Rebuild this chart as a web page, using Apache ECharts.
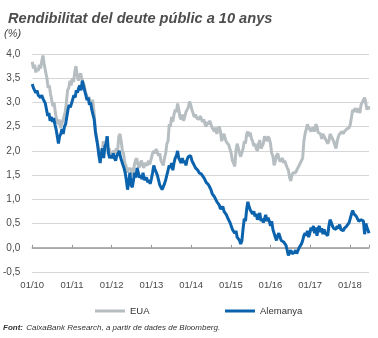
<!DOCTYPE html>
<html>
<head>
<meta charset="utf-8">
<script src="https://cdn.jsdelivr.net/npm/echarts@6/dist/echarts.min.js"></script>
<style>
html,body{margin:0;padding:0;background:#fff;}
#c{width:378px;height:338px;}
</style>
</head>
<body>
<div id="c"></div>
<script>
// Year ticks (decimal years) and their labels
var yearTicks = [2010, 2011, 2012, 2013, 2014, 2015, 2016, 2017, 2018];
var yTickLabels = ['-0,5','0,0','0,5','1,0','1,5','2,0','2,5','3,0','3,5','4,0'];
var seriesNames = ['EUA', 'Alemanya'];

// EUA 10y yield [decimal year, %]
var eua = [
[2010.00,3.84],[2010.03,3.70],[2010.06,3.78],[2010.09,3.62],[2010.12,3.70],[2010.15,3.65],[2010.18,3.78],[2010.21,3.70],[2010.24,3.85],[2010.27,3.97],
[2010.30,3.80],[2010.34,3.62],[2010.37,3.50],[2010.40,3.30],[2010.43,3.35],[2010.46,3.18],[2010.49,3.05],[2010.52,2.92],[2010.55,3.00],[2010.58,2.80],
[2010.62,2.62],[2010.65,2.55],[2010.68,2.65],[2010.71,2.47],[2010.74,2.55],[2010.77,2.62],[2010.80,2.58],[2010.83,2.80],[2010.86,3.00],[2010.89,3.25],
[2010.92,3.30],[2010.95,3.45],[2010.98,3.35],[2011.01,3.50],[2011.04,3.42],[2011.07,3.62],[2011.10,3.75],[2011.13,3.58],[2011.16,3.45],[2011.19,3.55],
[2011.22,3.60],[2011.25,3.48],[2011.28,3.42],[2011.31,3.35],[2011.34,3.20],[2011.37,3.15],[2011.40,3.05],[2011.43,3.12],[2011.46,2.95],[2011.49,3.00],
[2011.52,3.05],[2011.55,2.85],[2011.58,2.55],[2011.61,2.30],[2011.64,2.20],[2011.67,2.00],[2011.70,1.85],[2011.73,2.05],[2011.76,1.95],[2011.79,2.20],
[2011.82,2.05],[2011.85,2.15],[2011.88,2.30],[2011.91,1.95],[2011.94,2.05],[2011.97,1.90],[2012.00,1.95],[2012.03,1.95],[2012.06,2.00],[2012.09,1.95],
[2012.12,2.05],[2012.15,2.00],[2012.18,2.30],[2012.21,2.35],[2012.24,2.20],[2012.27,2.00],[2012.30,1.95],[2012.33,1.75],[2012.36,1.70],[2012.39,1.55],
[2012.42,1.65],[2012.45,1.60],[2012.48,1.65],[2012.51,1.48],[2012.54,1.55],[2012.57,1.70],[2012.60,1.80],[2012.63,1.85],[2012.66,1.72],[2012.69,1.65],
[2012.72,1.75],[2012.75,1.80],[2012.78,1.70],[2012.81,1.65],[2012.84,1.75],[2012.87,1.75],[2012.90,1.70],[2012.93,1.80],[2012.96,1.72],[2013.00,1.85],
[2013.03,1.95],[2013.06,2.00],[2013.09,1.95],[2013.12,2.04],[2013.15,1.98],[2013.18,1.90],[2013.21,1.95],[2013.24,1.80],[2013.27,1.75],[2013.30,1.70],
[2013.33,1.85],[2013.36,1.95],[2013.39,2.15],[2013.42,2.20],[2013.45,2.55],[2013.48,2.50],[2013.51,2.70],[2013.54,2.60],[2013.57,2.75],[2013.60,2.85],
[2013.63,2.80],[2013.66,2.98],[2013.69,2.85],[2013.72,2.70],[2013.75,2.65],[2013.78,2.75],[2013.81,2.62],[2013.84,2.70],[2013.87,2.80],[2013.90,2.85],
[2013.93,2.90],[2013.96,3.02],[2013.99,2.95],[2014.02,2.85],[2014.05,2.78],[2014.08,2.70],[2014.11,2.75],[2014.14,2.68],[2014.17,2.72],[2014.20,2.65],
[2014.23,2.72],[2014.26,2.68],[2014.29,2.60],[2014.32,2.65],[2014.35,2.55],[2014.38,2.50],[2014.41,2.60],[2014.44,2.55],[2014.47,2.62],[2014.50,2.55],
[2014.53,2.48],[2014.56,2.52],[2014.59,2.40],[2014.62,2.48],[2014.65,2.35],[2014.68,2.45],[2014.71,2.50],[2014.74,2.40],[2014.77,2.20],[2014.80,2.30],
[2014.83,2.35],[2014.86,2.25],[2014.89,2.18],[2014.92,2.22],[2014.95,2.12],[2014.98,2.15],[2015.01,1.95],[2015.04,1.80],[2015.07,1.75],[2015.10,1.68],
[2015.13,2.00],[2015.16,2.15],[2015.19,2.05],[2015.22,1.95],[2015.25,1.88],[2015.28,1.92],[2015.31,2.05],[2015.34,2.20],[2015.37,2.15],[2015.40,2.35],
[2015.43,2.40],[2015.46,2.30],[2015.49,2.38],[2015.52,2.25],[2015.55,2.20],[2015.58,2.10],[2015.61,2.15],[2015.64,2.05],[2015.67,2.00],[2015.70,2.15],
[2015.73,2.22],[2015.76,2.05],[2015.79,2.10],[2015.82,2.15],[2015.85,2.30],[2015.88,2.25],[2015.91,2.20],[2015.94,2.30],[2015.97,2.25],[2016.00,2.15],
[2016.03,1.95],[2016.06,1.90],[2016.09,1.70],[2016.12,1.78],[2016.15,1.90],[2016.18,1.95],[2016.21,1.85],[2016.24,1.78],[2016.27,1.80],[2016.30,1.85],
[2016.33,1.75],[2016.36,1.80],[2016.39,1.72],[2016.42,1.65],[2016.45,1.60],[2016.48,1.45],[2016.51,1.38],[2016.54,1.50],[2016.57,1.55],[2016.60,1.58],
[2016.63,1.55],[2016.66,1.60],[2016.69,1.62],[2016.72,1.70],[2016.75,1.75],[2016.78,1.80],[2016.81,1.85],[2016.84,2.20],[2016.87,2.35],[2016.90,2.45],
[2016.93,2.55],[2016.96,2.48],[2016.99,2.45],[2017.02,2.40],[2017.05,2.48],[2017.08,2.45],[2017.11,2.40],[2017.14,2.55],[2017.17,2.50],[2017.20,2.38],
[2017.23,2.42],[2017.26,2.35],[2017.29,2.25],[2017.32,2.35],[2017.35,2.32],[2017.38,2.25],[2017.41,2.20],[2017.44,2.15],[2017.47,2.20],[2017.50,2.35],
[2017.53,2.30],[2017.56,2.25],[2017.59,2.20],[2017.62,2.12],[2017.65,2.05],[2017.68,2.20],[2017.71,2.30],[2017.74,2.35],[2017.77,2.38],[2017.80,2.40],
[2017.83,2.35],[2017.86,2.40],[2017.89,2.38],[2017.92,2.45],[2017.95,2.42],[2017.98,2.48],[2018.01,2.55],[2018.04,2.70],[2018.07,2.85],[2018.10,2.80],
[2018.13,2.88],[2018.16,2.85],[2018.19,2.80],[2018.22,2.88],[2018.25,2.78],[2018.28,2.95],[2018.31,2.98],[2018.34,3.05],[2018.37,3.10],[2018.40,2.98],
[2018.43,2.85],[2018.46,2.92],[2018.48,2.85]
];

// Alemanya 10y yield [decimal year, %]
var alemanya = [
[2010.00,3.38],[2010.03,3.30],[2010.06,3.25],[2010.09,3.20],[2010.12,3.25],[2010.15,3.15],[2010.18,3.18],[2010.21,3.10],[2010.24,3.15],[2010.27,3.08],
[2010.30,3.12],[2010.33,2.98],[2010.36,2.85],[2010.39,2.72],[2010.42,2.78],[2010.45,2.62],[2010.48,2.70],[2010.51,2.60],[2010.54,2.68],[2010.57,2.55],
[2010.60,2.45],[2010.63,2.30],[2010.66,2.15],[2010.69,2.30],[2010.72,2.35],[2010.75,2.45],[2010.78,2.35],[2010.81,2.50],[2010.84,2.55],[2010.87,2.70],
[2010.90,2.85],[2010.93,2.95],[2010.96,2.90],[2010.99,2.98],[2011.02,3.00],[2011.05,3.15],[2011.08,3.10],[2011.11,3.25],[2011.14,3.20],[2011.17,3.30],
[2011.20,3.35],[2011.23,3.25],[2011.26,3.45],[2011.29,3.35],[2011.32,3.25],[2011.35,3.15],[2011.38,3.05],[2011.41,3.10],[2011.44,2.95],[2011.47,3.00],
[2011.50,2.85],[2011.53,2.75],[2011.56,2.65],[2011.59,2.40],[2011.62,2.25],[2011.65,2.10],[2011.68,1.90],[2011.71,1.75],[2011.74,1.95],[2011.77,2.05],
[2011.80,1.85],[2011.83,2.10],[2011.86,2.15],[2011.89,2.30],[2011.92,1.95],[2011.95,1.85],[2011.98,1.90],[2012.01,1.85],[2012.04,1.95],[2012.07,1.85],
[2012.10,1.80],[2012.13,1.90],[2012.16,1.95],[2012.19,2.00],[2012.22,1.88],[2012.25,1.80],[2012.28,1.72],[2012.31,1.65],[2012.34,1.55],[2012.37,1.40],
[2012.40,1.20],[2012.43,1.35],[2012.46,1.55],[2012.49,1.30],[2012.52,1.25],[2012.55,1.40],[2012.58,1.55],[2012.61,1.45],[2012.64,1.65],[2012.67,1.55],
[2012.70,1.45],[2012.73,1.50],[2012.76,1.42],[2012.79,1.55],[2012.82,1.40],[2012.85,1.38],[2012.88,1.45],[2012.91,1.35],[2012.94,1.40],[2012.97,1.32],
[2013.00,1.42],[2013.03,1.55],[2013.06,1.70],[2013.09,1.62],[2013.12,1.60],[2013.15,1.50],[2013.18,1.40],[2013.21,1.30],[2013.24,1.28],[2013.27,1.20],
[2013.30,1.18],[2013.33,1.32],[2013.36,1.40],[2013.39,1.50],[2013.42,1.60],[2013.45,1.70],[2013.48,1.65],[2013.51,1.75],[2013.54,1.60],[2013.57,1.75],
[2013.60,1.85],[2013.63,1.90],[2013.66,2.00],[2013.69,1.85],[2013.72,1.80],[2013.75,1.75],[2013.78,1.85],[2013.81,1.75],[2013.84,1.80],[2013.87,1.70],
[2013.90,1.82],[2013.93,1.88],[2013.96,1.92],[2013.99,1.90],[2014.02,1.80],[2014.05,1.75],[2014.08,1.70],[2014.11,1.65],[2014.14,1.68],[2014.17,1.60],
[2014.20,1.55],[2014.23,1.58],[2014.26,1.52],[2014.29,1.50],[2014.32,1.45],[2014.35,1.40],[2014.38,1.35],[2014.41,1.32],[2014.44,1.30],[2014.47,1.25],
[2014.50,1.20],[2014.53,1.12],[2014.56,1.08],[2014.59,1.05],[2014.62,1.00],[2014.65,0.95],[2014.68,0.98],[2014.71,0.88],[2014.74,0.80],[2014.77,0.78],
[2014.80,0.85],[2014.83,0.75],[2014.86,0.72],[2014.89,0.68],[2014.92,0.62],[2014.95,0.58],[2014.98,0.52],[2015.01,0.45],[2015.04,0.38],[2015.07,0.35],
[2015.10,0.30],[2015.13,0.35],[2015.16,0.22],[2015.19,0.25],[2015.22,0.15],[2015.25,0.08],[2015.28,0.15],[2015.31,0.40],[2015.34,0.60],[2015.37,0.55],
[2015.40,0.80],[2015.43,0.95],[2015.46,0.85],[2015.49,0.78],[2015.52,0.82],[2015.55,0.70],[2015.58,0.75],[2015.61,0.65],[2015.64,0.70],[2015.67,0.58],
[2015.70,0.62],[2015.73,0.72],[2015.76,0.55],[2015.79,0.60],[2015.82,0.52],[2015.85,0.60],[2015.88,0.68],[2015.91,0.55],[2015.94,0.62],[2015.97,0.55],
[2016.00,0.45],[2016.03,0.55],[2016.06,0.38],[2016.09,0.30],[2016.12,0.22],[2016.15,0.15],[2016.18,0.25],[2016.21,0.30],[2016.24,0.22],[2016.27,0.15],
[2016.30,0.18],[2016.33,0.12],[2016.36,0.10],[2016.39,0.05],[2016.42,-0.05],[2016.45,-0.16],[2016.48,-0.10],[2016.51,-0.05],[2016.54,-0.12],[2016.57,-0.08],
[2016.60,-0.10],[2016.63,-0.05],[2016.66,-0.12],[2016.69,-0.08],[2016.72,0.00],[2016.75,0.02],[2016.78,0.08],[2016.81,0.15],[2016.84,0.25],[2016.87,0.30],
[2016.90,0.25],[2016.93,0.35],[2016.96,0.22],[2016.99,0.30],[2017.02,0.42],[2017.05,0.35],[2017.08,0.45],[2017.11,0.30],[2017.14,0.42],[2017.17,0.25],
[2017.20,0.40],[2017.23,0.45],[2017.26,0.32],[2017.29,0.40],[2017.32,0.28],[2017.35,0.38],[2017.38,0.30],[2017.41,0.32],[2017.44,0.25],[2017.47,0.45],
[2017.50,0.58],[2017.53,0.52],[2017.56,0.45],[2017.59,0.40],[2017.62,0.42],[2017.65,0.38],[2017.68,0.45],[2017.71,0.40],[2017.74,0.48],[2017.77,0.38],
[2017.80,0.42],[2017.83,0.35],[2017.86,0.40],[2017.89,0.38],[2017.92,0.45],[2017.95,0.42],[2017.98,0.52],[2018.01,0.55],[2018.04,0.70],[2018.07,0.77],
[2018.10,0.70],[2018.13,0.72],[2018.16,0.65],[2018.19,0.62],[2018.22,0.55],[2018.25,0.52],[2018.28,0.58],[2018.31,0.62],[2018.34,0.55],[2018.37,0.28],
[2018.40,0.50],[2018.43,0.42],[2018.46,0.35],[2018.48,0.30]
];

var FONT = "'Liberation Sans', Arial, sans-serif";
var textColor = '#4a4a4a';

var chart = echarts.init(document.getElementById('c'), null, {renderer: 'canvas'});
chart.setOption({
  animation: false,
  textStyle: {fontFamily: FONT},
  title: {
    text: 'Rendibilitat del deute públic a 10 anys',
    left: 3, top: 6,
    textStyle: {fontFamily: FONT, fontStyle: 'italic', fontWeight: 'bold', fontSize: 14.6, color: '#4d4d4d'}
  },
  graphic: [
    {type: 'text', left: 4, top: 28, style: {text: '(%)', font: 'italic 11px ' + FONT, fill: textColor}},
    {type: 'text', left: 3, top: 322, style: {
      text: '{b|Font:} {i|CaixaBank Research, a partir de dades de Bloomberg.}',
      rich: {
        b: {fontFamily: FONT, fontStyle: 'italic', fontWeight: 'bold', fontSize: 8, fill: '#333'},
        i: {fontFamily: FONT, fontStyle: 'italic', fontSize: 8, fill: '#333'}
      }
    }}
  ],
  legend: [
    {data: [seriesNames[0]], left: 90, top: 301, itemWidth: 30, itemHeight: 3, icon: 'rect', itemGap: 0,
     textStyle: {fontFamily: FONT, fontSize: 9.5, color: '#333', padding: [0, 0, 0, 0]}},
    {data: [seriesNames[1]], left: 220, top: 301, itemWidth: 30, itemHeight: 3, icon: 'rect', itemGap: 0,
     textStyle: {fontFamily: FONT, fontSize: 9.5, color: '#333', padding: [0, 0, 0, 0]}}
  ],
  grid: {left: 30, right: 9, top: 54, bottom: 66, containLabel: false},
  xAxis: [
    {
      type: 'value', min: 2010, max: 2018.48, interval: 1, position: 'bottom',
      axisLine: {show: false, onZero: false}, axisTick: {show: false}, splitLine: {show: false},
      axisLabel: {margin: 8, fontSize: 9.5, color: textColor, fontFamily: FONT,
        formatter: function (v) { var y = Math.round(v) - 2000; return '01/' + (y < 10 ? '0' + y : y); }}
    },
    {
      type: 'value', min: 2010, max: 2018.48, interval: 1, position: 'bottom',
      axisLine: {show: true, onZero: true, lineStyle: {color: '#999999', width: 1.5}},
      axisTick: {show: true, inside: true, length: 3, lineStyle: {color: '#999999', width: 1}},
      axisLabel: {show: false}, splitLine: {show: false}
    }
  ],
  yAxis: {
    type: 'value', min: -0.5, max: 4, interval: 0.5,
    axisLine: {show: false}, axisTick: {show: false},
    splitLine: {lineStyle: {color: '#d6d6d6', width: 1}},
    axisLabel: {margin: 12, fontSize: 10, color: textColor, fontFamily: FONT,
      formatter: function (v) { var i = Math.round((v + 0.5) / 0.5); return yTickLabels[i]; }}
  },
  series: [
    {name: seriesNames[0], type: 'line', xAxisIndex: 0, data: eua, showSymbol: false, symbol: 'none',
     lineStyle: {color: '#b7bec2', width: 3}, itemStyle: {color: '#b7bec2'}, z: 2},
    {name: seriesNames[1], type: 'line', xAxisIndex: 0, data: alemanya, showSymbol: false, symbol: 'none',
     lineStyle: {color: '#0b63ad', width: 3}, itemStyle: {color: '#0b63ad'}, z: 3}
  ]
});
</script>
</body>
</html>
